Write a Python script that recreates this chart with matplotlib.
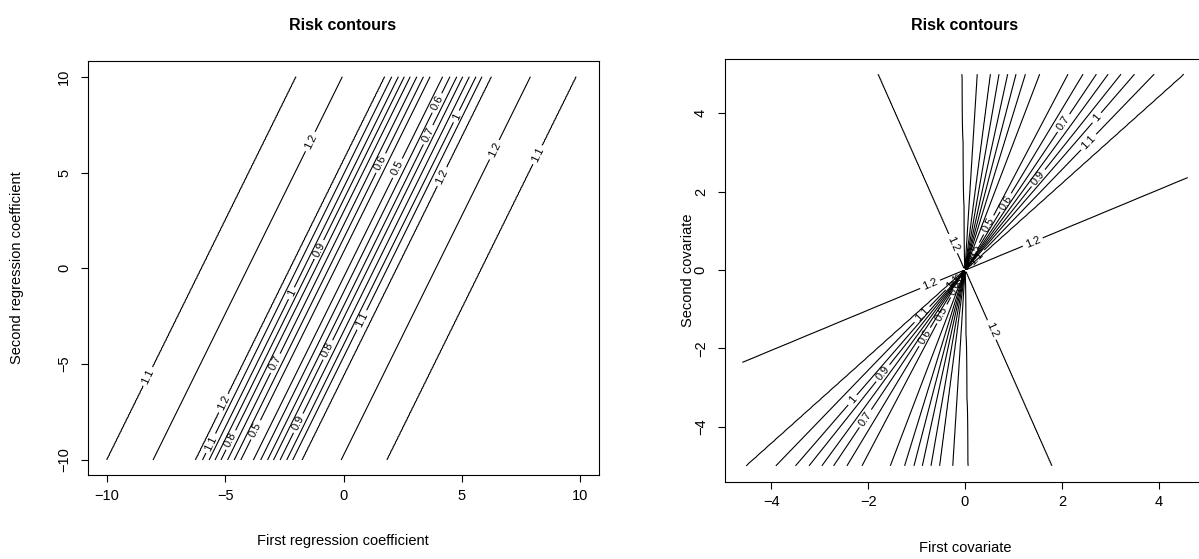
import numpy as np
import matplotlib
matplotlib.use("Agg")
import matplotlib.pyplot as plt

plt.rcParams['font.family'] = ['Liberation Sans', 'DejaVu Sans']

W, H = 1199, 559

levels = [0.5, 0.6, 0.7, 0.8, 0.9, 1.0, 1.1, 1.2]

# ---- Left panel: risk is constant along b1 - 0.4*b2 = u ----
left_slope = 0.4
left_u = [-14.0, -6.0, -4.05, -3.1, -2.25, -1.96, -1.68, -1.43, -1.18, -0.90,
          -0.62, -0.34, -0.07, 0.19, 0.50, 0.79, 1.04, 1.32, 1.60, 1.85, 2.24,
          3.05, 3.90, 5.82, 14.0]
left_r = [1.03, 1.1, 1.2, 1.25, 1.2, 1.1, 1.0, 0.9, 0.8, 0.7, 0.6, 0.5, 0.4,
          0.5, 0.6, 0.7, 0.8, 0.9, 1.0, 1.1, 1.2, 1.25, 1.2, 1.1, 1.03]
left_labels_at = [(-8.26, -5.65), (-1.40, 6.62), (-5.07, -7.04), (-5.61, -9.13),
                  (-4.76, -8.96), (-3.71, -8.43), (-2.88, -4.95), (-2.20, -1.3),
                  (-1.04, 0.97), (1.58, 5.49), (2.28, 5.23), (3.58, 6.97),
                  (3.95, 8.63), (4.77, 7.93), (4.16, 4.79), (-0.66, -4.26),
                  (0.77, -2.69), (-1.91, -8.08), (6.38, 6.19), (8.19, 5.93)]
left_ticks = [-10, -5, 0, 5, 10]

# ---- Right panel: risk is constant along rays (direction angle, degrees) ----
right_phi = [27.2, 37.5, 47.9, 52.0, 55.0, 57.2, 59.4, 61.5, 64.0, 66.95, 69.9,
             72.85, 76.0, 78.1, 80.0, 82.0, 84.0, 87.1, 90.7, 100.0, 109.7, 158.0]
right_r = [1.2, 1.25, 1.2, 1.1, 1.0, 0.9, 0.8, 0.7, 0.6, 0.5, 0.4, 0.5, 0.6,
           0.7, 0.8, 0.9, 1.0, 1.1, 1.2, 1.25, 1.2, 1.15]
right_labels_at = [(2.04, 3.75), (2.72, 3.89), (2.55, 3.27), (1.51, 2.35),
                   (0.84, 1.72), (0.49, 1.15), (1.40, 0.72), (-0.24, 0.68),
                   (-0.72, -0.37), (-0.89, -1.13), (-0.48, -1.12), (-0.83, -1.71),
                   (-1.70, -2.63), (-2.32, -3.32), (-2.06, -3.79), (0.55, -1.53),
                   (0.2, 0.45), (0.12, 0.3), (0.25, 0.3),
                   (-0.2, -0.45), (-0.12, -0.3), (-0.25, -0.3)]
right_xticks = [-4, -2, 0, 2, 4]
right_yticks = [-4, -2, 0, 2, 4]
right_xrange = (-4.6, 4.6)
right_yrange = (-5.0, 5.0)

fig = plt.figure(figsize=(W / 100, H / 100), dpi=100)

def px_axes(l, t, r, b):
    return fig.add_axes([l / W, 1 - b / H, (r - l) / W, (b - t) / H])

def fmt(v):
    return f"{v:g}"

def style(ax):
    for s in ax.spines.values():
        s.set_linewidth(0.8)
        s.set_color('black')
    ax.tick_params(direction='out', length=5, width=0.8, labelsize=10.5,
                   colors='black')
    ax.tick_params(axis='x', pad=5)
    ax.tick_params(axis='y', pad=7)

# Left
axL = px_axes(88, 61.4, 599, 475.3)
bx = np.linspace(-10, 10, 401)
by = np.linspace(-10, 10, 401)
BX, BY = np.meshgrid(bx, by)
ZL = np.interp(BX - left_slope * BY, left_u, left_r)
csL = axL.contour(BX, BY, ZL, levels=levels, colors='black', linewidths=0.8)
axL.clabel(csL, fmt=fmt, fontsize=8, inline=True, inline_spacing=4,
           manual=left_labels_at)
axL.set_xlim(-10.8, 10.8)
axL.set_ylim(-10.8, 10.8)
axL.set_xticks(left_ticks)
axL.set_yticks(left_ticks)
axL.set_yticklabels([f"{t:g}".replace('-', '\u2212') for t in left_ticks],
                    rotation=90, va='center')
style(axL)

# Right
axR = px_axes(724.5, 58.5, 1205.5, 481.5)
rx = np.linspace(right_xrange[0], right_xrange[1], 461)
ry = np.linspace(right_yrange[0], right_yrange[1], 501)
RX, RY = np.meshgrid(rx, ry)
PHI = np.degrees(np.arctan2(RY, RX)) % 180.0
ZR = np.interp(PHI, right_phi, right_r, period=180.0)
csR = axR.contour(RX, RY, ZR, levels=levels, colors='black', linewidths=0.8)
axR.clabel(csR, fmt=fmt, fontsize=8, inline=True, inline_spacing=4,
           manual=right_labels_at)
dx = 0.04 * (right_xrange[1] - right_xrange[0])
dy = 0.04 * (right_yrange[1] - right_yrange[0])
axR.set_xlim(right_xrange[0] - dx, right_xrange[1] + dx)
axR.set_ylim(right_yrange[0] - dy, right_yrange[1] + dy)
axR.set_xticks(right_xticks)
axR.set_yticks(right_yticks)
axR.set_yticklabels([f"{t:g}".replace('-', '\u2212') for t in right_yticks],
                    rotation=90, va='center')
style(axR)

# Titles and axis labels
fig.text(343 / W, 1 - 25 / H, "Risk contours", ha='center', va='center',
         fontsize=11.5, fontweight='bold')
fig.text(965 / W, 1 - 25 / H, "Risk contours", ha='center', va='center',
         fontsize=11.5, fontweight='bold')
fig.text(343 / W, 1 - 541 / H, "First regression coefficient", ha='center',
         va='center', fontsize=10.5)
fig.text(965 / W, 1 - 548 / H, "First covariate", ha='center', va='center',
         fontsize=10.5)
fig.text(17 / W, 1 - 268 / H, "Second regression coefficient", ha='center',
         va='center', rotation=90, fontsize=10.5)
fig.text(688 / W, 1 - 270 / H, "Second covariate", ha='center', va='center',
         rotation=90, fontsize=10.5)

fig.savefig("out.png", dpi=100)
